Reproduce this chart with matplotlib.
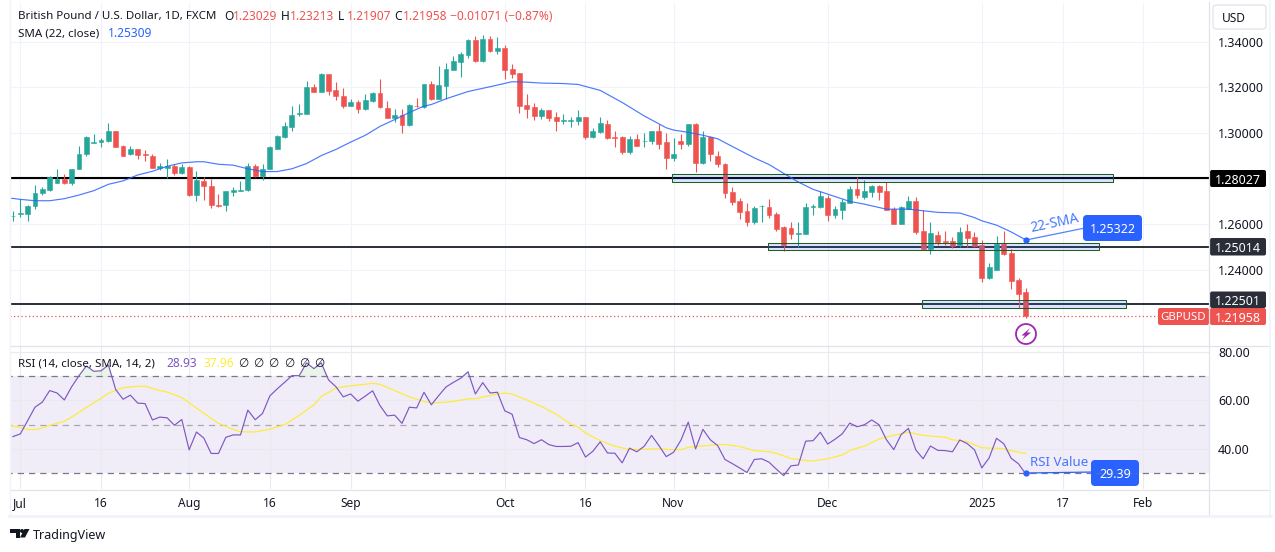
import numpy as np
import matplotlib
matplotlib.use("Agg")
import matplotlib.pyplot as plt
from matplotlib.patches import FancyBboxPatch, Polygon, Rectangle, Circle

plt.rcParams['font.family'] = ['Noto Sans', 'DejaVu Sans']

# daily GBPUSD candles, first bar is the one before Jul 1
opens = [1.2634, 1.2643, 1.2643, 1.2678, 1.2735, 1.2752, 1.2779, 1.2800, 1.2779, 1.2841,
         1.2907, 1.2956, 1.2960, 1.2967, 1.3007, 1.2941, 1.2906, 1.2928, 1.2906, 1.2901,
         1.2846, 1.2848, 1.2857, 1.2826, 1.2853, 1.2730, 1.2791, 1.2769, 1.2685, 1.2683,
         1.2740, 1.2747, 1.2749, 1.2857, 1.2813, 1.2840, 1.2929, 1.2981, 1.3025, 1.3082,
         1.3082, 1.3201, 1.3180, 1.3258, 1.3188, 1.3164, 1.3117, 1.3138, 1.3104, 1.3139,
         1.3174, 1.3108, 1.3064, 1.3077, 1.3033, 1.3120, 1.3114, 1.3214, 1.3151, 1.3207,
         1.3276, 1.3311, 1.3342, 1.3408, 1.3315, 1.3412, 1.3359, 1.3373, 1.3279, 1.3262,
         1.3121, 1.3113, 1.3073, 1.3099, 1.3069, 1.3052, 1.3052, 1.3051, 1.3069, 1.2981,
         1.3003, 1.3038, 1.2981, 1.2981, 1.2915, 1.2972, 1.2964, 1.2963, 1.3011, 1.2959,
         1.2892, 1.2963, 1.2950, 1.3038, 1.2870, 1.2981, 1.2901, 1.2866, 1.2743, 1.2703,
         1.2659, 1.2611, 1.2678, 1.2677, 1.2646, 1.2586, 1.2584, 1.2559, 1.2559, 1.2675,
         1.2677, 1.2716, 1.2641, 1.2663, 1.2694, 1.2756, 1.2721, 1.2743, 1.2769, 1.2747,
         1.2668, 1.2602, 1.2668, 1.2703, 1.2571, 1.2492, 1.2553, 1.2527, 1.2527, 1.2509,
         1.2571, 1.2545, 1.2509, 1.2364, 1.2399, 1.2514, 1.2474, 1.2355, 1.23029]
highs = [1.2659, 1.2710, 1.2686, 1.2774, 1.2762, 1.2813, 1.2844, 1.2821, 1.2844, 1.2945,
         1.2989, 1.2994, 1.2976, 1.3042, 1.3010, 1.2948, 1.2941, 1.2931, 1.2926, 1.2909,
         1.2869, 1.2884, 1.2865, 1.2865, 1.2856, 1.2835, 1.2809, 1.2799, 1.2732, 1.2747,
         1.2765, 1.2791, 1.2870, 1.2865, 1.2866, 1.2941, 1.2992, 1.3050, 1.3117, 1.3126,
         1.3227, 1.3217, 1.3262, 1.3258, 1.3223, 1.3196, 1.3151, 1.3146, 1.3173, 1.3182,
         1.3236, 1.3139, 1.3104, 1.3107, 1.3126, 1.3155, 1.3214, 1.3227, 1.3293, 1.3309,
         1.3337, 1.3355, 1.3412, 1.3425, 1.3430, 1.3425, 1.3421, 1.3386, 1.3302, 1.3265,
         1.3170, 1.3130, 1.3108, 1.3102, 1.3091, 1.3082, 1.3069, 1.3099, 1.3070, 1.3020,
         1.3069, 1.3055, 1.3011, 1.2985, 1.2985, 1.2994, 1.2998, 1.3011, 1.3038, 1.2998,
         1.2976, 1.2994, 1.3038, 1.3042, 1.3007, 1.2985, 1.2923, 1.2870, 1.2765, 1.2716,
         1.2694, 1.2681, 1.2685, 1.2712, 1.2655, 1.2590, 1.2611, 1.2611, 1.2691, 1.2688,
         1.2747, 1.2730, 1.2681, 1.2712, 1.2769, 1.2809, 1.2796, 1.2774, 1.2774, 1.2784,
         1.2677, 1.2681, 1.2725, 1.2721, 1.2663, 1.2611, 1.2571, 1.2571, 1.2545, 1.2589,
         1.2602, 1.2567, 1.2531, 1.2430, 1.2549, 1.2571, 1.2492, 1.2364, 1.23213]
lows = [1.2615, 1.2630, 1.2612, 1.2665, 1.2730, 1.2747, 1.2779, 1.2777, 1.2774, 1.2841,
        1.2900, 1.2956, 1.2937, 1.2959, 1.2937, 1.2897, 1.2903, 1.2885, 1.2876, 1.2846,
        1.2838, 1.2803, 1.2816, 1.2821, 1.2725, 1.2703, 1.2708, 1.2669, 1.2677, 1.2659,
        1.2722, 1.2744, 1.2747, 1.2809, 1.2794, 1.2840, 1.2929, 1.2976, 1.3007, 1.3075,
        1.3082, 1.3180, 1.3180, 1.3166, 1.3146, 1.3111, 1.3117, 1.3086, 1.3099, 1.3135,
        1.3110, 1.3064, 1.3050, 1.2998, 1.3030, 1.3114, 1.3111, 1.3146, 1.3148, 1.3151,
        1.3276, 1.3246, 1.3330, 1.3311, 1.3312, 1.3355, 1.3346, 1.3236, 1.3240, 1.3086,
        1.3064, 1.3055, 1.3060, 1.3051, 1.3007, 1.3038, 1.3025, 1.3033, 1.2972, 1.2976,
        1.2998, 1.2972, 1.2939, 1.2906, 1.2906, 1.2945, 1.2937, 1.2954, 1.2932, 1.2840,
        1.2879, 1.2932, 1.2945, 1.2831, 1.2866, 1.2879, 1.2853, 1.2716, 1.2685, 1.2624,
        1.2593, 1.2603, 1.2611, 1.2628, 1.2571, 1.2483, 1.2536, 1.2501, 1.2556, 1.2641,
        1.2669, 1.2615, 1.2627, 1.2624, 1.2691, 1.2716, 1.2712, 1.2721, 1.2708, 1.2662,
        1.2602, 1.2600, 1.2666, 1.2558, 1.2490, 1.2470, 1.2509, 1.2509, 1.2496, 1.2501,
        1.2501, 1.2501, 1.2346, 1.2360, 1.2399, 1.2465, 1.2316, 1.2232, 1.21907]
closes = [1.2637, 1.2647, 1.2681, 1.2738, 1.2756, 1.2809, 1.2800, 1.2779, 1.2844, 1.2909,
          1.2981, 1.2961, 1.2970, 1.3007, 1.2937, 1.2901, 1.2928, 1.2903, 1.2903, 1.2846,
          1.2857, 1.2857, 1.2826, 1.2853, 1.2730, 1.2796, 1.2766, 1.2683, 1.2681, 1.2744,
          1.2750, 1.2752, 1.2856, 1.2813, 1.2844, 1.2937, 1.2985, 1.3029, 1.3080, 1.3086,
          1.3204, 1.3180, 1.3258, 1.3185, 1.3161, 1.3117, 1.3138, 1.3104, 1.3144, 1.3174,
          1.3113, 1.3066, 1.3077, 1.3035, 1.3121, 1.3117, 1.3214, 1.3151, 1.3210, 1.3279,
          1.3315, 1.3346, 1.3408, 1.3314, 1.3412, 1.3359, 1.3373, 1.3276, 1.3258, 1.3117,
          1.3104, 1.3073, 1.3099, 1.3064, 1.3051, 1.3055, 1.3055, 1.3069, 1.2981, 1.3007,
          1.3042, 1.2976, 1.2978, 1.2915, 1.2972, 1.2945, 1.2967, 1.3011, 1.2954, 1.2892,
          1.2910, 1.2950, 1.3038, 1.2870, 1.2981, 1.2906, 1.2862, 1.2738, 1.2699, 1.2655,
          1.2611, 1.2672, 1.2681, 1.2641, 1.2580, 1.2511, 1.2559, 1.2562, 1.2677, 1.2680,
          1.2725, 1.2641, 1.2668, 1.2699, 1.2756, 1.2730, 1.2747, 1.2769, 1.2743, 1.2663,
          1.2602, 1.2677, 1.2703, 1.2567, 1.2492, 1.2562, 1.2523, 1.2523, 1.2505, 1.2567,
          1.2540, 1.2505, 1.2364, 1.2412, 1.2514, 1.2470, 1.2351, 1.2294, 1.21958]

# 22 SMA on price
sma_bars = [-2, -1, 0, 2, 4, 6, 8, 10, 12, 14, 16, 18, 20, 22, 24, 25, 27, 29, 31, 33, 35, 37, 39, 41,
            43, 45, 47, 49, 51, 53, 55, 56, 58, 61, 64, 67, 69, 71, 74, 76, 79, 82, 85, 88, 89, 91,
            93, 95, 97, 100, 102, 104, 106, 108, 110, 113, 115, 118, 121, 123, 125, 128, 130, 131,
            133, 135, 137]
sma_vals = [1.2714, 1.2713, 1.2709, 1.2703, 1.2703, 1.2712, 1.2728, 1.2747, 1.2775, 1.2790, 1.2816,
            1.2832, 1.2854, 1.2869, 1.2874, 1.2874, 1.2863, 1.2859, 1.2843, 1.2831, 1.2831, 1.2843,
            1.2866, 1.2901, 1.2928, 1.2960, 1.2990, 1.3029, 1.3059, 1.3090, 1.3118, 1.3125, 1.3150,
            1.3182, 1.3203, 1.3225, 1.3223, 1.3219, 1.3217, 1.3213, 1.3187, 1.3134, 1.3075, 1.3023,
            1.3013, 1.3003, 1.2990, 1.2975, 1.2941, 1.2891, 1.2862, 1.2823, 1.2785, 1.2753, 1.2732,
            1.2700, 1.2688, 1.2666, 1.2666, 1.2659, 1.2652, 1.2649, 1.2629, 1.2615, 1.2596, 1.2566,
            1.2531]

rsi_vals = [45.0, 46.1, 51.6, 57.2, 59.3, 64.1, 63.1, 60.2, 65.7, 70.3, 74.3, 72.1, 72.3, 74.7,
            64.5, 60.5, 62.2, 58.9, 58.7, 51.9, 53.1, 52.8, 49.7, 52.1, 39.5, 46.9, 44.4, 38.0,
            38.0, 44.7, 45.7, 45.7, 56.0, 52.0, 54.6, 61.9, 64.8, 67.5, 70.3, 70.3, 75.6, 73.2,
            75.6, 68.5, 65.7, 61.5, 62.7, 59.7, 61.8, 64.0, 57.9, 53.6, 53.9, 50.5, 57.2, 56.9,
            63.4, 58.2, 62.0, 65.6, 67.5, 69.2, 71.9, 62.7, 67.4, 63.1, 63.4, 55.7, 54.3, 44.6,
            43.7, 42.1, 43.7, 41.7, 40.9, 40.9, 41.0, 42.5, 36.5, 38.9, 42.8, 38.2, 38.1, 34.1,
            40.2, 38.7, 41.0, 45.5, 41.3, 36.7, 38.5, 43.5, 51.0, 39.9, 48.0, 43.7, 41.3, 35.5,
            33.8, 32.0, 30.1, 35.5, 35.8, 34.4, 31.5, 28.8, 32.9, 33.2, 43.1, 43.3, 46.8, 41.9,
            43.9, 46.2, 50.6, 49.1, 49.9, 51.9, 49.9, 43.7, 39.6, 45.8, 48.4, 39.5, 35.8, 41.1,
            39.3, 39.2, 38.7, 43.6, 42.1, 39.5, 32.0, 36.2, 44.3, 42.0, 36.0, 33.7, 29.4]

# 14 SMA on RSI
rsi_ma_bars = [-2, 0, 1, 2, 3, 4, 6, 7, 9, 11, 12, 14, 16, 17, 19, 20, 22, 23, 25, 27, 29, 30, 32, 34,
               36, 38, 40, 41, 43, 44, 46, 48, 49, 51, 53, 55, 56, 58, 59, 61, 62, 65, 66, 67, 69, 71,
               73, 75, 76, 77, 79, 81, 83, 85, 87, 89, 90, 91, 93, 95, 96, 98, 100, 102, 103, 105,
               107, 108, 110, 112, 113, 114, 115, 117, 118, 120, 121, 123, 126, 127, 129, 131, 132,
               133, 134, 135, 137]
rsi_ma_vals = [49.9, 48.8, 47.9, 47.9, 48.6, 49.7, 51.3, 53.1, 57.1, 60.9, 63.0, 65.3, 65.9, 65.9, 64.1,
               63.5, 61.2, 59.0, 54.7, 50.5, 48.0, 47.0, 46.9, 48.1, 49.9, 53.8, 58.2, 61.6, 65.1,
               65.7, 66.4, 67.1, 66.7, 64.1, 61.5, 59.6, 58.9, 59.3, 59.6, 60.7, 60.7, 62.7, 63.0,
               62.7, 60.2, 57.5, 54.3, 50.2, 49.0, 46.5, 43.3, 41.0, 39.6, 39.8, 39.9, 39.5, 39.6,
               40.6, 41.1, 41.7, 41.7, 40.9, 39.2, 38.7, 38.1, 35.9, 35.1, 34.9, 35.8, 37.4, 39.2,
               40.2, 41.0, 44.0, 44.8, 46.2, 46.8, 45.5, 44.7, 43.7, 42.9, 40.4, 40.2, 40.2, 39.9,
               39.1, 38.0]

levels = [1.28027, 1.25014, 1.22501]
level_labels = ['1.28027', '1.25014', '1.22501']
last_close = 1.21958
# zones: first bar, last bar, low, high
zones = [(88.8, 148.9, 1.27865, 1.28189), (101.9, 146.9, 1.24856, 1.25163), (122.8, 150.7, 1.22338, 1.22663)]

price_ticks = [1.24, 1.26, 1.28, 1.30, 1.32, 1.34]
price_tick_labels = ['1.24000', '1.26000', '', '1.30000', '1.32000', '1.34000']
rsi_ticks = [40, 60, 80]
time_ticks = [0, 11, 23, 34, 45, 66, 77, 89, 110, 131, 142, 153]
time_labels = ['Jul', '16', 'Aug', '16', 'Sep', 'Oct', '16', 'Nov', 'Dec', '2025', '17', 'Feb']

GREEN = '#26a69a'
RED = '#ef5350'
BLUE = '#2962ff'
DARK = '#2a2e39'
TEXT = '#131722'
GRID = '#f0f3fa'
EDGE = '#e0e3eb'
W, H = 1275, 552

#----------------------------------------------------------------------------------
def pane(left, top, right, bottom):
    a = fig.add_axes([left / W, 1 - bottom / H, (right - left) / W, (bottom - top) / H])
    a.set_xlim((left - 20.3) / 7.34, (right - 20.3) / 7.34)
    for s in a.spines.values():
        s.set_visible(False)
    a.grid(True, color=GRID, lw=0.8)
    a.set_axisbelow(True)
    a.yaxis.tick_right()
    a.tick_params(length=0, labelcolor=TEXT, labelsize=9)
    a.set_xticks(time_ticks)
    return a

def box(x0, y0, x1, y1, color, txt, tcolor='white', r=2, size=9):
    ov.add_patch(FancyBboxPatch((x0, y0), x1 - x0, y1 - y0, boxstyle=f'round,pad=0,rounding_size={r}',
                                fc=color, ec='none'))
    ov.text((x0 + x1) / 2, (y0 + y1) / 2, txt, color=tcolor, fontsize=size, ha='center', va='center_baseline')
#----------------------------------------------------------------------------------

fig = plt.figure(figsize=(W / 100, H / 100), dpi=100, facecolor='white')

# price pane
ax = pane(10, 3, 1209, 346)
ax.set_ylim(1.28027 - 168 / 2280, 1.28027 + 175 / 2280)
ax.set_yticks(price_ticks)
ax.set_yticklabels(price_tick_labels)
ax.set_xticklabels([])
ax.tick_params(axis='y', pad=6.5)

bars = np.arange(-1, len(opens) - 1)
o, h, l, c = map(np.array, (opens, highs, lows, closes))
colors = np.where(c >= o, GREEN, RED)
ax.vlines(bars, l, h, colors=colors, lw=0.8, zorder=3)
ax.bar(bars, np.abs(c - o), bottom=np.minimum(o, c), width=0.66, color=colors, edgecolor=colors, lw=0.4, zorder=4)
ax.plot(sma_bars, sma_vals, color=BLUE, lw=0.85, alpha=0.85, zorder=5)

ax.hlines(levels[0], -2, 170, color='black', lw=1.5, zorder=2)
ax.hlines(levels[1:], -2, 170, color=DARK, lw=1.4, zorder=2)
ax.hlines(last_close, -2, 170, color=RED, lw=0.9, ls=(0, (1, 2)), zorder=2)
for x0, x1, y0, y1 in zones:
    ax.add_patch(Rectangle((x0, y0), x1 - x0, y1 - y0, fc=BLUE, ec='none', alpha=0.16, zorder=6))
    ax.add_patch(Rectangle((x0, y0), x1 - x0, y1 - y0, fc='none', ec='#1b5e20', lw=0.75, zorder=6))

# RSI pane
rsi_ax = pane(10, 346, 1209, 489)
rsi_ax.set_ylim(23.25, 82.6)
rsi_ax.set_yticks(rsi_ticks)
rsi_ax.set_yticklabels([f'{v:.2f}' for v in rsi_ticks])
rsi_ax.set_xticklabels(time_labels)
rsi_ax.tick_params(axis='y', pad=6.5)
rsi_ax.tick_params(axis='x', pad=5.5, labelsize=8.6)
rsi_ax.get_xticklabels()[9].set_fontweight('bold')
rsi_ax.grid(True, color='#e9e9ef', lw=0.8)

rsi = np.array(rsi_vals)
rsi_ax.axhspan(30, 70, fc='#7e57c2', alpha=0.1, ec='none', zorder=0)
rsi_ax.fill_between(bars[:len(rsi)], 70, rsi, where=rsi > 70, interpolate=True, color='#4caf50', alpha=0.12, lw=0)
rsi_ax.fill_between(bars[:len(rsi)], 30, rsi, where=rsi < 30, interpolate=True, color='#ef5350', alpha=0.12, lw=0)
rsi_ax.hlines([70, 30], -2, 170, color='#787b86', lw=0.9, ls=(0, (5, 4)), zorder=2)
rsi_ax.hlines(50, -2, 170, color='#787b86', lw=0.9, ls=(0, (5, 4)), alpha=0.6, zorder=2)
rsi_ax.plot(rsi_ma_bars, rsi_ma_vals, color='#ffeb3b', lw=0.9, zorder=3)
rsi_ax.plot(bars[:len(rsi)], rsi, color='#7e57c2', lw=0.85, zorder=4)

# everything else goes on an overlay in pixel units
ov = fig.add_axes([0, 0, 1, 1], facecolor='none')
ov.set_xlim(0, W)
ov.set_ylim(H, 0)
ov.axis('off')

# pane frame
ov.plot([10, 1270], [346, 346], color=EDGE, lw=0.9)
ov.plot([10, 1270], [489.5, 489.5], color=EDGE, lw=0.9)
ov.plot([1209, 1209], [2, 516], color=EDGE, lw=0.9)
ov.plot([9.5, 9.5], [0, 516], color=GRID, lw=1)
ov.plot([1270, 1270], [0, 516], color=GRID, lw=1.2)
ov.plot([9, 1271], [516, 516], color=GRID, lw=2)

# USD button
ov.add_patch(FancyBboxPatch((1213, 5), 53, 24, boxstyle='round,pad=0,rounding_size=3', fc='white', ec=EDGE, lw=0.9))
ov.text(1222, 17.5, 'USD', fontsize=8.6, color=TEXT, va='center_baseline')

# legends
ov.text(18, 15, 'British Pound / U.S. Dollar, 1D, FXCM', fontsize=8.3, color=TEXT, va='center_baseline')
for x, lab, val in [(224, 'O', '1.23029'), (281, 'H', '1.23213'), (338, 'L', '1.21907'), (394, 'C', '1.21958')]:
    ov.text(x, 15, lab, fontsize=8.6, color=TEXT, va='center_baseline')
    ov.text(x + 9, 15, val, fontsize=8.6, color=RED, va='center_baseline')
ov.text(450, 15, '\u22120.01071 (\u22120.87%)', fontsize=8.6, color=RED, va='center_baseline')
ov.text(18, 32, 'SMA (22, close)', fontsize=8.3, color=TEXT, va='center_baseline')
ov.text(108, 32, '1.25309', fontsize=8.6, color=BLUE, va='center_baseline')
ov.text(18, 362, 'RSI (14, close, SMA, 14, 2)', fontsize=8.3, color=TEXT, va='center_baseline')
ov.text(166, 362, '28.93', fontsize=8.6, color='#7e57c2', va='center_baseline')
ov.text(203, 362, '37.96', fontsize=8.6, color='#ffeb3b', va='center_baseline')
for x in [243, 258, 273, 289, 304, 319]:
    ov.text(x, 362, '\u2205', fontsize=8.6, color=TEXT, ha='center', va='center_baseline')

# price labels on the right scale
box(1210, 170, 1266, 187, 'black', level_labels[0])
box(1210, 238, 1266, 255.5, DARK, level_labels[1])
box(1210, 291.5, 1266, 308, DARK, level_labels[2])
box(1210, 308, 1266, 325, RED, '1.21958')
box(1158, 308, 1209, 325, RED, 'GBPUSD', size=8.2)

# lightning mark under the last bar
ov.add_patch(Circle((1026, 334), 10, fc='white', ec='#9c27b0', lw=1.3))
ov.add_patch(Polygon([(1030, 328), (1021.5, 335.5), (1025, 335.5), (1022, 340), (1031, 332.5), (1027, 332.5)],
                     fc='#9c27b0', ec='none'))

# 22-SMA note
ov.plot([1026, 1085], [240, 228], color=BLUE, lw=0.9, alpha=0.8)
ov.plot([1026], [240], 'o', color=BLUE, ms=3.5)
ov.text(1055, 223, '22-SMA', color=BLUE, alpha=0.85, fontsize=10, rotation=12, ha='center', va='center')
box(1083, 215, 1142, 241, BLUE, '1.25322', r=4)

# RSI note
ov.plot([1026, 1095], [473, 472], color=BLUE, lw=0.9)
ov.plot([1026], [473], 'o', color=BLUE, ms=3.5)
ov.text(1030, 462, 'RSI Value', color=BLUE, alpha=0.85, fontsize=9.6, va='center')
box(1091, 460, 1139, 486, BLUE, '29.39', r=4)
ov.plot([1096, 1137], [473, 473], color='#787b86', lw=0.8, ls=(0, (5, 4)), alpha=0.7)

# TradingView logo
ov.add_patch(Polygon([(10, 529), (20, 529), (20, 537.5), (15.5, 537.5), (15.5, 533), (10, 533)], fc=TEXT, ec='none'))
ov.add_patch(Circle((22, 531), 2, fc=TEXT, ec='none'))
ov.add_patch(Polygon([(24.5, 529), (29.5, 529), (25, 537.5), (20, 537.5)], fc=TEXT, ec='none'))
ov.text(33, 534.5, 'TradingView', fontsize=9, color=TEXT, va='center_baseline')

fig.savefig('out.png', dpi=100, facecolor='white')
